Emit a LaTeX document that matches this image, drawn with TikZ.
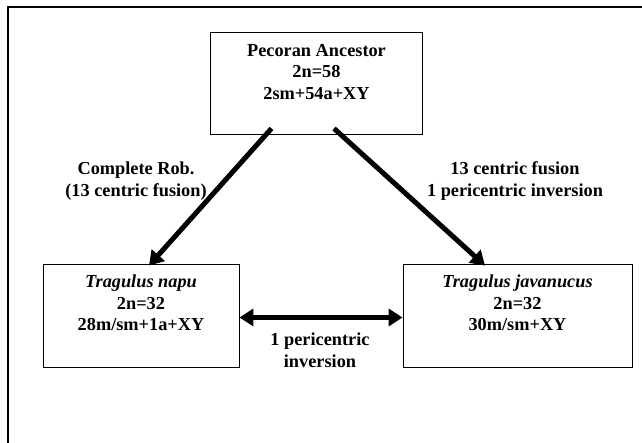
\documentclass[tikz,border=0pt]{standalone}
\usepackage{fontspec}
\setmainfont{Liberation Serif}
\usetikzlibrary{arrows.meta}
\begin{document}
\begin{tikzpicture}[x=1pt,y=-1pt,
  box/.style={draw,line width=0.9pt,inner sep=0pt,minimum width=#1},
  txt/.style={font=\fontsize{18.3}{21.5}\selectfont\bfseries,align=center,inner sep=0pt},
  bigarrow/.style={line width=5pt,-{Triangle[length=14pt,width=17pt]}},
  dblarrow/.style={line width=5pt,{Triangle[length=14pt,width=17pt]}-{Triangle[length=14pt,width=17pt]}}]
\useasboundingbox (0,0) rectangle (642,443);
% outer frame (only top and left edges visible)
\coordinate (fbl) at (8,443);
\coordinate (ftl) at (8,7);
\coordinate (ftr) at (642,7);
\draw[line width=1.4pt] (fbl) -- (ftl) -- (ftr);
% boxes
\node[box=212pt,minimum height=102pt] (top) at (316.5,83) {};
\node[box=196pt,minimum height=103pt] (napu) at (141,315.5) {};
\node[box=229pt,minimum height=103pt] (jav) at (517.5,315.5) {};
% texts
\node[txt] (toptxt) at (316.5,72) {Pecoran Ancestor\\2n=58\\2sm+54a+XY};
\node[txt] (napytxt) at (141,303) {\textit{Tragulus napu}\\2n=32\\28m/sm+1a+XY};
\node[txt] (javtxt) at (517.5,303) {\textit{Tragulus javanucus}\\2n=32\\30m/sm+XY};
\node[txt] (lab1) at (136,181) {Complete Rob.\\(13 centric fusion)};
\node[txt] (lab2) at (515,181) {13 centric fusion\\1 pericentric inversion};
\node[txt] (lab3) at (320,350) {1 pericentric\\inversion};
% arrows
\draw[bigarrow] ([xshift=-45pt,yshift=6pt]top.south) -- ([xshift=8pt,yshift=-2pt]napu.north);
\draw[bigarrow] ([xshift=17.5pt,yshift=6pt]top.south) -- ([xshift=-32.5pt,yshift=-2pt]jav.north);
\draw[dblarrow] ([yshift=-2pt]napu.east) -- ([yshift=-2pt]jav.west);
\end{tikzpicture}
\end{document}
